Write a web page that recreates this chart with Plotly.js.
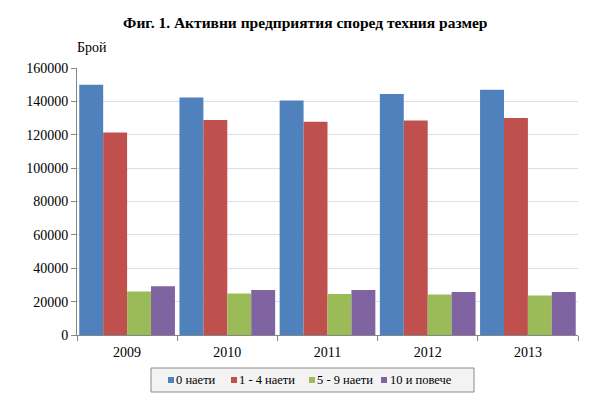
<!DOCTYPE html>
<html>
<head>
<meta charset="utf-8">
<script src="https://cdn.plot.ly/plotly-3.0.1.min.js"></script>
<style>html,body{margin:0;padding:0;background:#fff;}#chart{width:601px;height:409px;}</style>
</head>
<body>
<div id="chart"></div>
<script>
const years = ["2009", "2010", "2011", "2012", "2013"];
const seriesNames = ["0 наети", "1 - 4 наети", "5 - 9 наети", "10 и повече"];
const s0 = [150000, 142300, 140500, 144400, 147000];
const s1 = [121300, 128800, 127800, 128600, 130000];
const s2 = [26000, 24800, 24600, 24200, 23600];
const s3 = [29200, 27000, 27000, 25800, 25800];
const yTicks = [0, 20000, 40000, 60000, 80000, 100000, 120000, 140000, 160000];
const colors = ["#4f81bd", "#c0504d", "#9bbb59", "#8064a2"];
const values = [s0, s1, s2, s3];

const font = "'Times New Roman', 'Liberation Serif', Times, serif";
const M = {l: 77, r: 23, t: 68, b: 74};
const W = 601, H = 409;
const pw = W - M.l - M.r, ph = H - M.t - M.b;
const px = v => (v - M.l) / pw;
const py = v => (H - M.b - v) / ph;

const traces = values.map((v, i) => ({
  type: "bar", x: years, y: v, name: seriesNames[i],
  marker: {color: colors[i], line: {width: 0}}
}));

// custom legend (Excel-style: small squares, tight spacing)
const legSquareX = [168, 231, 309, 381];
const legTextX = [174, 237, 315, 388];
const legY = 380;
const shapes = [{type: "rect", xref: "paper", yref: "paper",
  x0: px(151), x1: px(474), y0: py(392), y1: py(368),
  fillcolor: "#f3f3f3", line: {color: "#8a8a8a", width: 1}, layer: "below"}];
const annotations = [{text: "Брой", xref: "paper", yref: "paper", x: px(75), y: py(47),
  xanchor: "left", yanchor: "middle", showarrow: false, font: {family: font, size: 14, color: "#000"}}];
seriesNames.forEach((n, i) => {
  shapes.push({type: "rect", xref: "paper", yref: "paper",
    x0: px(legSquareX[i]), x1: px(legSquareX[i] + 6), y0: py(legY + 3), y1: py(legY - 3),
    fillcolor: colors[i], line: {width: 0}});
  annotations.push({text: n, xref: "paper", yref: "paper", x: px(legTextX[i]), y: py(legY),
    xanchor: "left", yanchor: "middle", showarrow: false,
    font: {family: font, size: 12.5, color: "#000"}});
});

const layout = {
  width: W, height: H, margin: M,
  paper_bgcolor: "#fff", plot_bgcolor: "#fff",
  font: {family: font, size: 14, color: "#000"},
  title: {text: "<b>Фиг. 1. Активни предприятия според техния размер</b>",
          font: {family: font, size: 15.5, color: "#000"},
          x: 0.508, xanchor: "center", y: 0.945, yanchor: "middle"},
  barmode: "group", bargap: 0.045, bargroupgap: 0,
  xaxis: {type: "category", tickson: "boundaries", ticks: "outside", ticklen: 5,
          tickcolor: "#868686", showline: true, linecolor: "#868686", linewidth: 1,
          showgrid: false, tickfont: {family: font, size: 14, color: "#000"},
          ticklabelstandoff: 4, fixedrange: true},
  yaxis: {range: [0, 160000], tickvals: yTicks, ticktext: yTicks.map(String),
          ticks: "outside", ticklen: 5, tickcolor: "#868686",
          showline: true, linecolor: "#868686", linewidth: 1,
          showgrid: true, gridcolor: "#d9dde6", gridwidth: 1, zeroline: false,
          tickfont: {family: font, size: 14, color: "#000"}, fixedrange: true},
  showlegend: false,
  shapes: shapes,
  annotations: annotations
};
Plotly.newPlot("chart", traces, layout, {displayModeBar: false, staticPlot: true});
</script>
</body>
</html>
